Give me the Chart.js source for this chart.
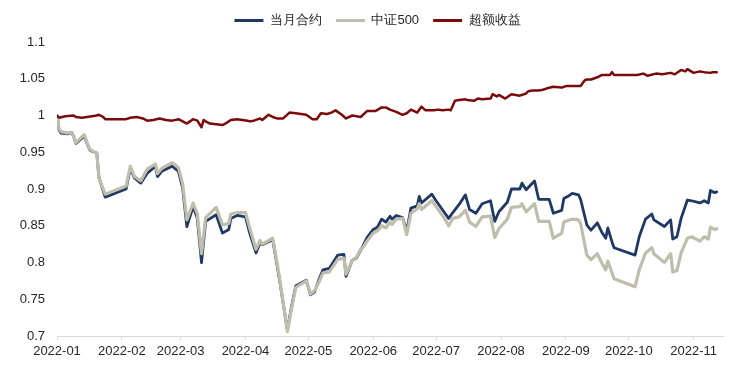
<!DOCTYPE html>
<html>
<head>
<meta charset="utf-8">
<script src="https://cdn.jsdelivr.net/npm/chart.js@4.4.0/dist/chart.umd.min.js"></script>
<style>
  html, body { margin: 0; padding: 0; background: #fff; }
</style>
</head>
<body>
<canvas id="chart" width="747" height="376"></canvas>
<script>
// x values are calendar days counted from the first trading day (2022-01-04)
var monthTicks = [0, 31, 59, 90, 120, 151, 181, 212, 243, 273, 304];
var monthLabels = ["2022-01", "2022-02", "2022-03", "2022-04", "2022-05", "2022-06",
                   "2022-07", "2022-08", "2022-09", "2022-10", "2022-11"];
var yTicks = [0.7, 0.75, 0.8, 0.85, 0.9, 0.95, 1, 1.05, 1.1];

var seriesNames = ["当月合约", "中证500", "超额收益"];
var seriesColors = ["#1f3864", "#bfbdab", "#7b0a0a"];

var navDays = [0, 1, 2, 5, 7, 8, 9, 13, 15, 16, 19, 20, 23, 33, 35, 37, 40, 43, 47, 48,
  50, 55, 58, 60, 62, 65, 67, 69, 71, 76, 79, 82, 83, 86, 90, 92, 95, 97, 98, 103,
  106, 110, 112, 114, 119, 121, 123, 125, 127, 130, 134, 137, 138, 141, 143, 145, 146, 148, 151, 153,
  155, 157, 159, 160, 162, 165, 167, 169, 172, 173, 174, 179, 181, 185, 187, 189, 192, 195, 197, 200,
  203, 207, 209, 211, 215, 217, 221, 222, 224, 228, 230, 235, 237, 241, 242, 244, 246, 249, 250, 253,
  255, 258, 260, 262, 263, 265, 266, 276, 278, 281, 284, 285, 290, 293, 294, 296, 298, 301, 303, 307,
  309, 311, 312, 314, 315];

var contractValues = [1.000, 0.980, 0.976, 0.975, 0.977, 0.971, 0.962, 0.972, 0.957, 0.952, 0.949, 0.916, 0.889, 0.900, 0.928, 0.915, 0.908, 0.921, 0.931, 0.917,
  0.924, 0.931, 0.924, 0.901, 0.849, 0.876, 0.860, 0.800, 0.856, 0.865, 0.840, 0.845, 0.860, 0.864, 0.862, 0.840, 0.813, 0.827, 0.824, 0.831,
  0.781, 0.708, 0.740, 0.768, 0.776, 0.756, 0.760, 0.776, 0.790, 0.792, 0.810, 0.811, 0.781, 0.803, 0.806, 0.817, 0.822, 0.834, 0.845, 0.848,
  0.859, 0.855, 0.863, 0.859, 0.864, 0.861, 0.843, 0.874, 0.877, 0.890, 0.881, 0.893, 0.884, 0.868, 0.860, 0.868, 0.879, 0.892, 0.872, 0.867,
  0.880, 0.884, 0.856, 0.869, 0.882, 0.900, 0.900, 0.908, 0.899, 0.911, 0.886, 0.886, 0.867, 0.871, 0.887, 0.890, 0.894, 0.892, 0.886, 0.851,
  0.844, 0.854, 0.842, 0.833, 0.847, 0.828, 0.820, 0.810, 0.835, 0.859, 0.866, 0.858, 0.849, 0.858, 0.832, 0.835, 0.860, 0.885, 0.884, 0.881,
  0.884, 0.881, 0.898, 0.895, 0.896];

var csi500Values = [1.000, 0.982, 0.978, 0.976, 0.977, 0.971, 0.963, 0.974, 0.958, 0.953, 0.949, 0.915, 0.893, 0.904, 0.931, 0.917, 0.911, 0.927, 0.934, 0.921,
  0.928, 0.936, 0.929, 0.907, 0.858, 0.881, 0.866, 0.812, 0.861, 0.875, 0.851, 0.853, 0.866, 0.868, 0.868, 0.847, 0.818, 0.830, 0.825, 0.833,
  0.784, 0.706, 0.737, 0.766, 0.775, 0.757, 0.762, 0.773, 0.786, 0.787, 0.804, 0.806, 0.784, 0.803, 0.807, 0.818, 0.820, 0.829, 0.840, 0.843,
  0.850, 0.847, 0.855, 0.852, 0.859, 0.860, 0.838, 0.867, 0.873, 0.880, 0.872, 0.884, 0.876, 0.860, 0.850, 0.860, 0.862, 0.871, 0.855, 0.849,
  0.862, 0.863, 0.834, 0.846, 0.859, 0.875, 0.876, 0.880, 0.869, 0.880, 0.856, 0.856, 0.833, 0.840, 0.855, 0.857, 0.859, 0.858, 0.853, 0.810,
  0.804, 0.812, 0.800, 0.790, 0.802, 0.786, 0.778, 0.767, 0.790, 0.813, 0.820, 0.812, 0.800, 0.812, 0.787, 0.789, 0.813, 0.833, 0.835, 0.829,
  0.835, 0.832, 0.848, 0.845, 0.846];

var excessDays = [0, 1, 4, 8, 9, 12, 19, 20, 22, 23, 33, 35, 38, 41, 43, 46, 49, 52, 55, 58,
  60, 62, 63, 65, 67, 69, 70, 71, 73, 76, 79, 81, 83, 86, 91, 92, 94, 97, 98, 101,
  103, 105, 108, 111, 114, 119, 122, 124, 126, 129, 131, 133, 136, 138, 141, 145, 148, 152, 155, 157,
  159, 162, 165, 167, 169, 172, 174, 176, 180, 182, 184, 187, 188, 190, 192, 195, 196, 199, 201, 203,
  207, 208, 210, 211, 214, 217, 221, 224, 225, 227, 230, 232, 234, 237, 241, 243, 250, 252, 253, 255,
  258, 260, 262, 264, 265, 266, 277, 280, 282, 286, 289, 293, 295, 298, 300, 301, 304, 307, 309, 312,
  313, 315];

var excessValues = [1.000, 0.997, 0.999, 1.000, 0.998, 0.997, 1.000, 1.001, 0.998, 0.995, 0.995, 0.997, 0.998, 0.996, 0.993, 0.994, 0.996, 0.994, 0.993, 0.995,
  0.992, 0.989, 0.991, 0.995, 0.993, 0.984, 0.994, 0.992, 0.989, 0.988, 0.987, 0.990, 0.994, 0.995, 0.993, 0.992, 0.993, 0.996, 0.994, 1.001,
  0.998, 0.996, 0.996, 1.004, 1.003, 1.001, 0.995, 0.995, 1.003, 1.002, 1.004, 1.007, 1.001, 0.996, 1.000, 0.998, 1.006, 1.006, 1.011, 1.011,
  1.008, 1.005, 1.001, 1.003, 1.008, 1.004, 1.012, 1.007, 1.007, 1.008, 1.007, 1.008, 1.007, 1.020, 1.021, 1.022, 1.021, 1.020, 1.023, 1.022,
  1.023, 1.029, 1.026, 1.028, 1.023, 1.029, 1.027, 1.030, 1.033, 1.034, 1.034, 1.035, 1.037, 1.039, 1.038, 1.040, 1.040, 1.048, 1.049, 1.049,
  1.052, 1.055, 1.055, 1.055, 1.059, 1.055, 1.055, 1.057, 1.054, 1.057, 1.056, 1.058, 1.056, 1.062, 1.060, 1.063, 1.058, 1.060, 1.059, 1.058,
  1.059, 1.059];

function toPoints(days, values) {
  return days.map(function (d, i) { return { x: d, y: values[i] }; });
}

var font = { family: "'Liberation Sans', Arial, sans-serif", size: 13 };

// legend: fixed height so the plot starts where the reference does
var legendBox = {
  id: "legendBox",
  beforeInit: function (chart) {
    var fit = chart.legend.fit;
    chart.legend.fit = function () { fit.call(this); this.height = 42; };
  },
  afterLayout: function (chart) {
    chart.legend.left += 16;
    chart.legend.right += 16;
  }
};

var ctx = document.getElementById("chart").getContext("2d");
var navChart = new Chart(ctx, {
  type: "line",
  data: {
    datasets: [
      {
        label: seriesNames[0],
        data: toPoints(navDays, contractValues),
        borderColor: seriesColors[0],
        backgroundColor: seriesColors[0],
        borderWidth: 2.8,
        order: 3
      },
      {
        label: seriesNames[1],
        data: toPoints(navDays, csi500Values),
        borderColor: seriesColors[1],
        backgroundColor: seriesColors[1],
        borderWidth: 3.2,
        order: 2
      },
      {
        label: seriesNames[2],
        data: toPoints(excessDays, excessValues),
        borderColor: seriesColors[2],
        backgroundColor: seriesColors[2],
        borderWidth: 2.5,
        order: 1
      }
    ]
  },
  options: {
    responsive: false,
    animation: false,
    layout: { padding: { left: 0, right: 24, top: 0, bottom: 0 } },
    elements: {
      point: { radius: 0 },
      line: { tension: 0, borderJoinStyle: "round", borderCapStyle: "round" }
    },
    plugins: {
      tooltip: { enabled: false },
      legend: {
        position: "top",
        labels: {
          color: "#262626",
          font: font,
          boxWidth: 29,
          boxHeight: 3,
          padding: 14,
          sort: function (a, b) { return a.datasetIndex - b.datasetIndex; },
          generateLabels: function (chart) {
            return Chart.defaults.plugins.legend.labels.generateLabels(chart).map(function (l) {
              l.lineWidth = 0;
              return l;
            });
          }
        }
      }
    },
    scales: {
      x: {
        type: "linear",
        min: 0,
        max: 318,
        afterBuildTicks: function (scale) {
          scale.ticks = monthTicks.map(function (v) { return { value: v }; });
        },
        afterFit: function (scale) { scale.height = 40; },
        ticks: {
          autoSkip: false,
          maxRotation: 0,
          color: "#262626",
          font: font,
          padding: 4,
          callback: function (value) { return monthLabels[monthTicks.indexOf(value)]; }
        },
        grid: {
          display: true,
          drawOnChartArea: false,
          drawTicks: true,
          tickLength: 4,
          color: "#d9d9d9"
        },
        border: { display: true, color: "#d9d9d9", width: 1 }
      },
      y: {
        min: 0.7,
        max: 1.1,
        afterBuildTicks: function (scale) {
          scale.ticks = yTicks.map(function (v) { return { value: v }; });
        },
        afterFit: function (scale) { scale.width = 57; },
        ticks: {
          color: "#262626",
          font: font,
          padding: 12,
          callback: function (value) { return String(Number(value.toFixed(2))); }
        },
        grid: { display: false, drawTicks: false },
        border: { display: false }
      }
    }
  },
  plugins: [legendBox]
});
</script>
</body>
</html>
